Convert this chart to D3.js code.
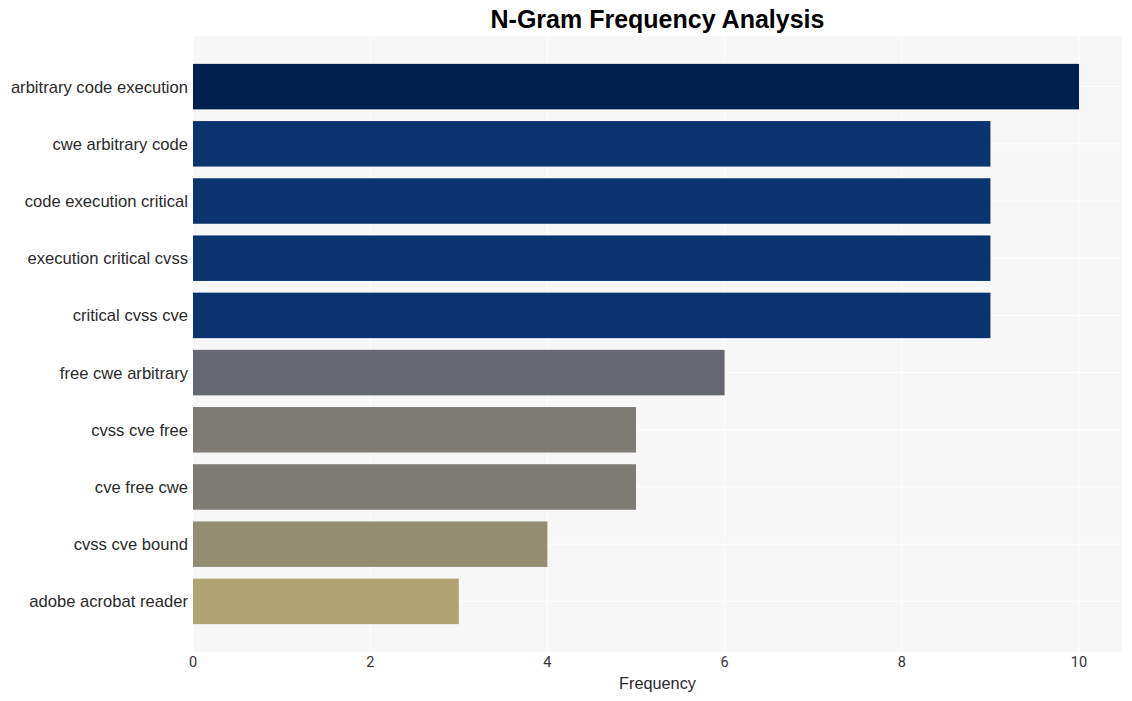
<!DOCTYPE html>
<html><head><meta charset="utf-8">
<script src="https://cdn.jsdelivr.net/npm/d3@7"></script>
<style>body{margin:0;background:#fff;font-family:"Liberation Sans",Arial,sans-serif;}</style>
</head><body><svg id="c" width="1132" height="701"></svg>
<script>
const categories = ["arbitrary code execution","cwe arbitrary code","code execution critical","execution critical cvss","critical cvss cve","free cwe arbitrary","cvss cve free","cve free cwe","cvss cve bound","adobe acrobat reader"];
const values = [10,9,9,9,9,6,5,5,4,3];
const colors = ["#00214f","#0a3370","#0a3370","#0a3370","#0a3370","#656870","#7d7b74","#7d7b74","#958d72","#afa471"];
const xTicks = [0,2,4,6,8,10];

const svg = d3.select("#c");
const L=193, R=1122, T=36, B=652;
const x = d3.scaleLinear().domain([0,10.485]).range([L,R]);
const y = d3.scaleLinear().domain([-0.885,9.885]).range([T,B]);
const barH = 45.5;

svg.append("rect").attr("x",L).attr("y",T).attr("width",R-L).attr("height",B-T).attr("fill","#f7f7f7");
svg.append("g").selectAll("line").data(xTicks).join("line")
  .attr("x1",d=>x(d)).attr("x2",d=>x(d)).attr("y1",T).attr("y2",B)
  .attr("stroke","#fff").attr("stroke-width",1);
svg.append("g").selectAll("line").data(categories).join("line")
  .attr("x1",L).attr("x2",R).attr("y1",(d,i)=>y(i)).attr("y2",(d,i)=>y(i))
  .attr("stroke","#fff").attr("stroke-width",1);

svg.append("g").selectAll("rect").data(values).join("rect")
  .attr("x",x(0)).attr("y",(d,i)=>y(i)-barH/2).attr("width",d=>x(d)-x(0)).attr("height",barH)
  .attr("fill",(d,i)=>colors[i]);

svg.append("g").selectAll("text").data(categories).join("text")
  .attr("x",188).attr("y",(d,i)=>y(i)).attr("dy","0.36em").attr("text-anchor","end")
  .attr("font-size",16.6).attr("fill","#2a2a2a").text(d=>d);

svg.append("g").selectAll("text").data(xTicks).join("text")
  .attr("x",d=>x(d)).attr("y",667).attr("text-anchor","middle")
  .attr("font-family","Roboto, 'Liberation Sans', sans-serif")
  .attr("font-size",14.5).attr("fill","#333").text(d=>d);

svg.append("text").attr("x",(L+R)/2).attr("y",689).attr("text-anchor","middle")
  .attr("font-size",16.3).attr("fill","#2a2a2a").text("Frequency");

svg.append("text").attr("x",(L+R)/2).attr("y",28).attr("text-anchor","middle")
  .attr("font-size",25).attr("font-weight","bold").attr("fill","#000").text("N-Gram Frequency Analysis");
</script></body></html>
